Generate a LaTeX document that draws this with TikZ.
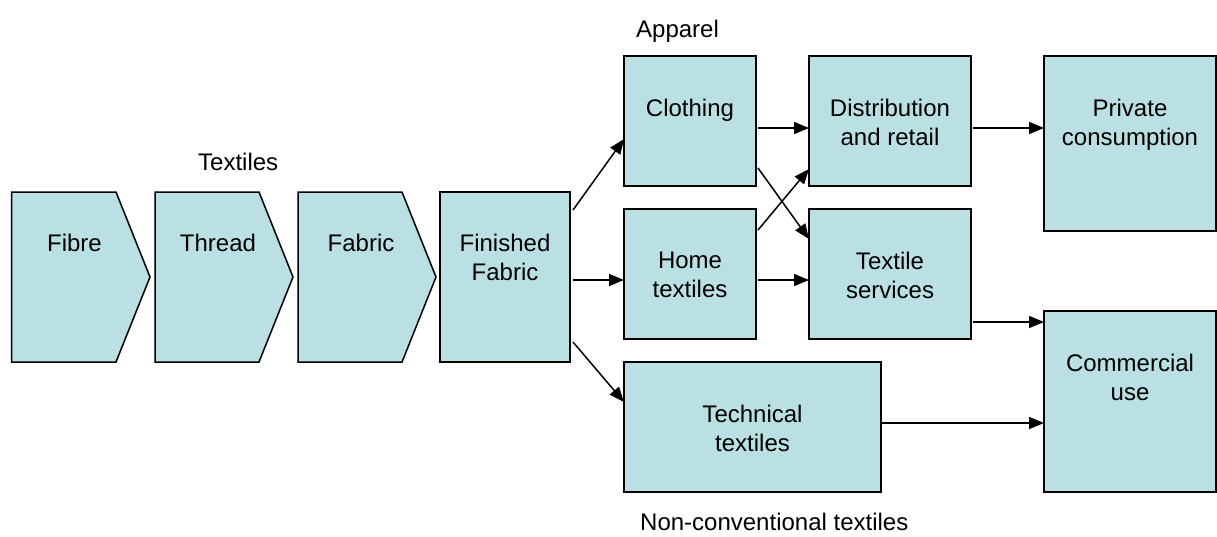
\documentclass[tikz,border=0pt]{standalone}
\usepackage{fontspec}
\setmainfont{Liberation Sans}
\usetikzlibrary{arrows.meta,calc}
\definecolor{boxfill}{HTML}{BAE0E3}
\tikzset{
  boxnode/.style={draw=black, fill=boxfill, line width=1.5pt, inner sep=0pt, outer sep=0pt, anchor=north west},
  chev/.style={draw=black, fill=boxfill, line width=1.5pt, line join=miter},
  lbl/.style={font=\fontsize{24}{28.5}\selectfont, align=center, inner sep=0pt, anchor=north},
  grpcap/.style={font=\fontsize{24}{28.5}\selectfont, inner sep=0pt, anchor=base west},
  arr/.style={line width=1.5pt, -{Triangle[length=15pt,width=12pt]}},
}
\begin{document}
\begin{tikzpicture}[x=1pt,y=-1pt]
\useasboundingbox[fill=white] (0,0) rectangle (1217,536);

% chevrons
\draw[chev] (11.5,192) -- (116,192) -- (150,277) -- (116,362) -- (11.5,362) -- cycle;
\draw[chev] (155,192) -- (259,192) -- (293,277) -- (259,362) -- (155,362) -- cycle;
\draw[chev] (298,192) -- (402,192) -- (436,277) -- (402,362) -- (298,362) -- cycle;
\node[lbl] (fibre) at (74.5,234) {Fibre};
\node[lbl] (thread) at (218,234) {Thread};
\node[lbl] (fabric) at (361,234) {Fabric};

% boxes
\node[boxnode, minimum width=130, minimum height=170] (finished) at (440,192) {};
\node[boxnode, minimum width=132, minimum height=130] (clothing) at (624,56) {};
\node[boxnode, minimum width=132, minimum height=130] (homet) at (624,209) {};
\node[boxnode, minimum width=257, minimum height=130] (tech) at (624,362) {};
\node[boxnode, minimum width=162, minimum height=130] (distr) at (809,56) {};
\node[boxnode, minimum width=162, minimum height=130] (tserv) at (809,209) {};
\node[boxnode, minimum width=172, minimum height=175] (priv) at (1044,56) {};
\node[boxnode, minimum width=172, minimum height=181] (comm) at (1044,311) {};

% box labels
\node[lbl] (finished-l) at ($(finished.north)+(0,42)$) {Finished\\Fabric};
\node[lbl] (clothing-l) at ($(clothing.north)+(0,43)$) {Clothing};
\node[lbl] (homet-l) at ($(homet.north)+(0,43)$) {Home\\textiles};
\node[lbl] (tech-l) at ($(tech.north)+(0,43)$) {Technical\\textiles};
\node[lbl] (distr-l) at ($(distr.north)+(0,43)$) {Distribution\\and retail};
\node[lbl] (tserv-l) at ($(tserv.north)+(0,43)$) {Textile\\services};
\node[lbl] (priv-l) at ($(priv.north)+(0,43)$) {Private\\consumption};
\node[lbl] (comm-l) at ($(comm.north)+(0,43)$) {Commercial\\use};

% group captions
\node[grpcap] (apparel) at (636,37) {Apparel};
\node[grpcap] (textiles) at (198,170) {Textiles};
\node[grpcap] (nonconv) at (640,530) {Non-conventional textiles};

% connectors
\draw[arr] ($(finished.north east)+(3,18)$) -- ($(clothing.north west)+(0,83)$);
\draw[arr] ($(finished.north east)+(3,88)$) -- ($(homet.north west)+(0,71)$);
\draw[arr] ($(finished.north east)+(3,150)$) -- ($(tech.north west)+(0,40)$);
\draw[arr] ($(clothing.north east)+(2,72)$) -- ($(distr.north west)+(0,72)$);
\draw[arr] ($(distr.north east)+(2,72)$) -- ($(priv.north west)+(0,72)$);
\draw[arr] ($(clothing.north east)+(2,112)$) -- ($(tserv.north west)+(0,30)$);
\draw[arr] ($(homet.north east)+(2,21)$) -- ($(distr.north west)+(0,113)$);
\draw[arr] ($(homet.north east)+(2,71)$) -- ($(tserv.north west)+(0,71)$);
\draw[arr] ($(tserv.north east)+(2,113)$) -- ($(comm.north west)+(0,11)$);
\draw[arr] ($(tech.north east)+(0,61)$) -- ($(comm.north west)+(0,112)$);
\end{tikzpicture}
\end{document}
